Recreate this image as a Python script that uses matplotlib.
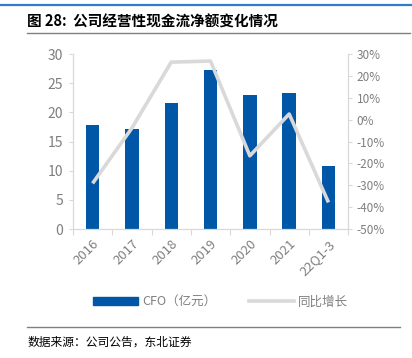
import matplotlib
matplotlib.use("Agg")
import matplotlib.pyplot as plt
from matplotlib.lines import Line2D
from matplotlib.ticker import FuncFormatter

plt.rcParams['font.family'] = ['Noto Sans CJK SC', 'DejaVu Sans']

# --- DATOS ---
categorias = ['2016', '2017', '2018', '2019', '2020', '2021', '22Q1-3']
cfo = [17.8, 17.2, 21.6, 27.3, 22.9, 23.4, 10.9]
crecimiento = [-29.1, -3.8, 26.3, 26.8, -16.5, 2.6, -37.8]

azul = '#0057A8'
gris_linea = '#D9D9D9'
gris_texto = '#7F7F7F'
gris_eje = '#D9D9D9'

fig = plt.figure(figsize=(4.12, 3.58), dpi=100)
fig.patch.set_facecolor('white')

# --- LINEAS DECORATIVAS ---
fig.add_artist(Line2D([0.0, 1.0], [0.985, 0.985], color='#2E7BCF', lw=1.6))
fig.add_artist(Line2D([0.066, 0.995], [0.908, 0.908], color='#808080', lw=1.0))
fig.add_artist(Line2D([0.066, 0.97], [0.087, 0.087], color='#808080', lw=1.0))

fig.text(0.066, 0.94, '图 28:  公司经营性现金流净额变化情况', fontsize=10.5,
         fontweight='bold', va='center', ha='left', color='black')
fig.text(0.066, 0.045, '数据来源：公司公告，东北证券', fontsize=8.5,
         va='center', ha='left', color='black')

# --- GRAFICO ---
ax = fig.add_axes([0.177, 0.360, 0.668, 0.489])
x = range(len(categorias))
ax.bar(x, cfo, width=0.34, color=azul, zorder=2)
ax.set_ylim(0, 30)
ax.set_yticks(range(0, 31, 5))
ax.set_xlim(-0.5, len(categorias) - 0.5)

ax2 = ax.twinx()
ax2.plot(x, crecimiento, color=gris_linea, lw=2.6, zorder=3,
         solid_capstyle='butt')
ax2.set_ylim(-50, 30)
ax2.set_yticks(range(-50, 31, 10))
ax2.yaxis.set_major_formatter(FuncFormatter(lambda v, p: f'{int(v)}%'))

for a in (ax, ax2):
    a.spines['top'].set_visible(False)
    for lado in ['left', 'right', 'bottom']:
        a.spines[lado].set_color(gris_eje)
        a.spines[lado].set_linewidth(0.9)
ax2.spines['left'].set_visible(False)
ax2.spines['bottom'].set_visible(False)
ax.spines['right'].set_visible(False)

ax.tick_params(axis='y', colors=gris_eje, labelcolor=gris_texto, labelsize=10,
               length=3, width=0.8, pad=4)
ax2.tick_params(axis='y', colors=gris_eje, labelcolor=gris_texto, labelsize=8.5,
                length=3, width=0.8, pad=3)

# ticks del eje x entre categorias
ax.set_xticks([i - 0.5 for i in range(len(categorias) + 1)], minor=False)
ax.set_xticklabels([''] * (len(categorias) + 1))
ax.set_xticks(list(x), minor=True)
ax.set_xticklabels(categorias, minor=True, rotation=45, ha='right',
                   rotation_mode='anchor')
ax.tick_params(axis='x', which='major', colors=gris_eje, length=4, width=0.8)
ax.tick_params(axis='x', which='minor', length=0, labelcolor=gris_texto,
               labelsize=9.5, pad=6)

# --- LEYENDA ---
handles = [plt.Rectangle((0, 0), 1, 1, color=azul),
           Line2D([0], [0], color=gris_linea, lw=2.6)]
fig.legend(handles, ['CFO（亿元）', '同比增长'], loc='center',
           bbox_to_anchor=(0.535, 0.157), ncol=2, frameon=False,
           fontsize=9, labelcolor=gris_texto, handlelength=3.6,
           handleheight=0.55, columnspacing=2.6, handletextpad=0.3)

fig.savefig('out.png', dpi=100)
